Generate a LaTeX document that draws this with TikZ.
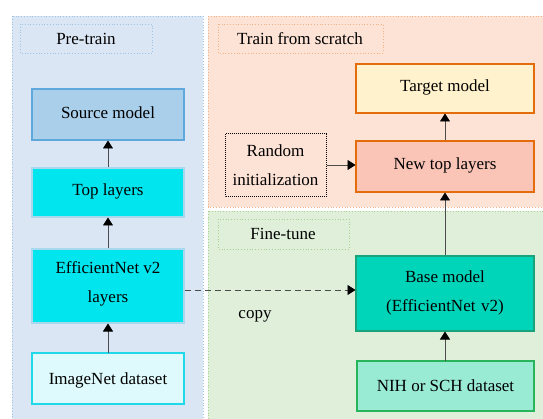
\documentclass[tikz,border=0pt]{standalone}
\usepackage{fontspec}
\setmainfont{Liberation Serif}
\usetikzlibrary{arrows.meta}
\definecolor{ptfill}{HTML}{DAE6F4}
\definecolor{ptline}{HTML}{9DC3E6}
\definecolor{srcfill}{HTML}{A9CFEB}
\definecolor{srcline}{HTML}{5FA8DC}
\definecolor{cyanfill}{HTML}{00E5EE}
\definecolor{cyanline}{HTML}{A8D8EE}
\definecolor{imgfill}{HTML}{DEFAFC}
\definecolor{imgline}{HTML}{1FD8E8}
\definecolor{tsfill}{HTML}{FDE2D6}
\definecolor{tsline}{HTML}{F4B183}
\definecolor{tgtfill}{HTML}{FFF2CC}
\definecolor{orline}{HTML}{E46C0A}
\definecolor{ntfill}{HTML}{FAC4B6}
\definecolor{ftfill}{HTML}{DFEFD9}
\definecolor{ftline}{HTML}{A9D18E}
\definecolor{basefill}{HTML}{00D5BA}
\definecolor{baseline}{HTML}{1AA37A}
\definecolor{nihfill}{HTML}{99EBD3}
\definecolor{nihline}{HTML}{27B45A}
\tikzset{
  x=1pt,y=-1pt,
  every node/.style={font=\fontsize{17}{28.5}\selectfont, align=center, inner sep=0pt},
  panel/.style={line width=0.8pt, dotted},
  boxx/.style={line width=1.2pt},
  arr/.style={-{Triangle[length=8pt,width=10pt,color=black]}, line width=0.7pt, draw=black!70},
}
\begin{document}
\begin{tikzpicture}
\useasboundingbox (0,0) rectangle (543,419);
\fill[white] (0,0) rectangle (543,419);
% panels
\filldraw[panel, fill=ptfill, draw=ptline] (12,16) rectangle (203,425);
\filldraw[panel, fill=tsfill, draw=tsline] (208,16) rectangle (548,207);
\filldraw[panel, fill=ftfill, draw=ftline] (208,211) rectangle (548,425);
% panel labels
\draw[panel, draw=ptline] (20,24) rectangle (152,53);
\node (lpt) at (86,38.5) {Pre-train};
\draw[panel, draw=tsline] (218,24) rectangle (383,53);
\node (lts) at (300,38.5) {Train from scratch};
\draw[panel, draw=ftline] (218,219) rectangle (349,249);
\node (lft) at (283,234) {Fine-tune};
% pre-train boxes
\filldraw[boxx, fill=srcfill, draw=srcline] (32,89) rectangle (184,140);
\node (src) at (108,113) {Source model};
\filldraw[boxx, fill=cyanfill, draw=cyanline] (32,168) rectangle (184,217);
\node (top) at (108,191) {Top layers};
\filldraw[boxx, fill=cyanfill, draw=cyanline] (32,249) rectangle (184,323);
\node (eff) at (108,284) {EfficientNet v2\\layers};
\filldraw[boxx, fill=imgfill, draw=imgline] (32,353) rectangle (184,404);
\node (img) at (108,380) {ImageNet dataset};
% scratch boxes
\filldraw[boxx, fill=tgtfill, draw=orline] (356,64) rectangle (534,113);
\node (tgt) at (445,87) {Target model};
\filldraw[boxx, fill=ntfill, draw=orline] (356,141) rectangle (534,192);
\node (ntl) at (445,165) {New top layers};
\draw[line width=1pt, densely dotted, draw=black] (225,134) rectangle (326,197);
\node (rnd) at (275.5,165) {Random\\initialization};
% fine-tune boxes
\filldraw[boxx, fill=basefill, draw=baseline] (356,256) rectangle (534,331);
\node (base) at (445,293) {Base model\\(EfficientNet\,\,v2)};
\filldraw[boxx, fill=nihfill, draw=nihline] (357,361) rectangle (534,411);
\node (nih) at (445.5,386) {NIH or SCH dataset};
\node (copy) at (255,316) {copy};
% coordinates for edges
\coordinate (srcS) at (108,140.5);
\coordinate (topN) at (108,167.5);
\coordinate (topS) at (108,217.5);
\coordinate (effN) at (108,248.5);
\coordinate (effS) at (108,323.5);
\coordinate (imgN) at (108,352.5);
\coordinate (effE) at (184.5,290);
\coordinate (baseW) at (355.5,290);
\coordinate (tgtS) at (445,113.5);
\coordinate (ntlN) at (445,140.5);
\coordinate (ntlS) at (445,192.5);
\coordinate (baseN) at (445,255.5);
\coordinate (baseS) at (445,331.5);
\coordinate (nihN) at (445,360.5);
\coordinate (rndE) at (326.5,165);
\coordinate (ntlW) at (355.5,165);
% arrows
\draw[arr] (topN) -- (srcS);
\draw[arr] (effN) -- (topS);
\draw[arr] (imgN) -- (effS);
\draw[arr] (ntlN) -- (tgtS);
\draw[arr] (baseN) -- (ntlS);
\draw[arr] (nihN) -- (baseS);
\draw[arr] (rndE) -- (ntlW);
\draw[arr, dash pattern=on 6pt off 4pt] (effE) -- (baseW);
\end{tikzpicture}
\end{document}
